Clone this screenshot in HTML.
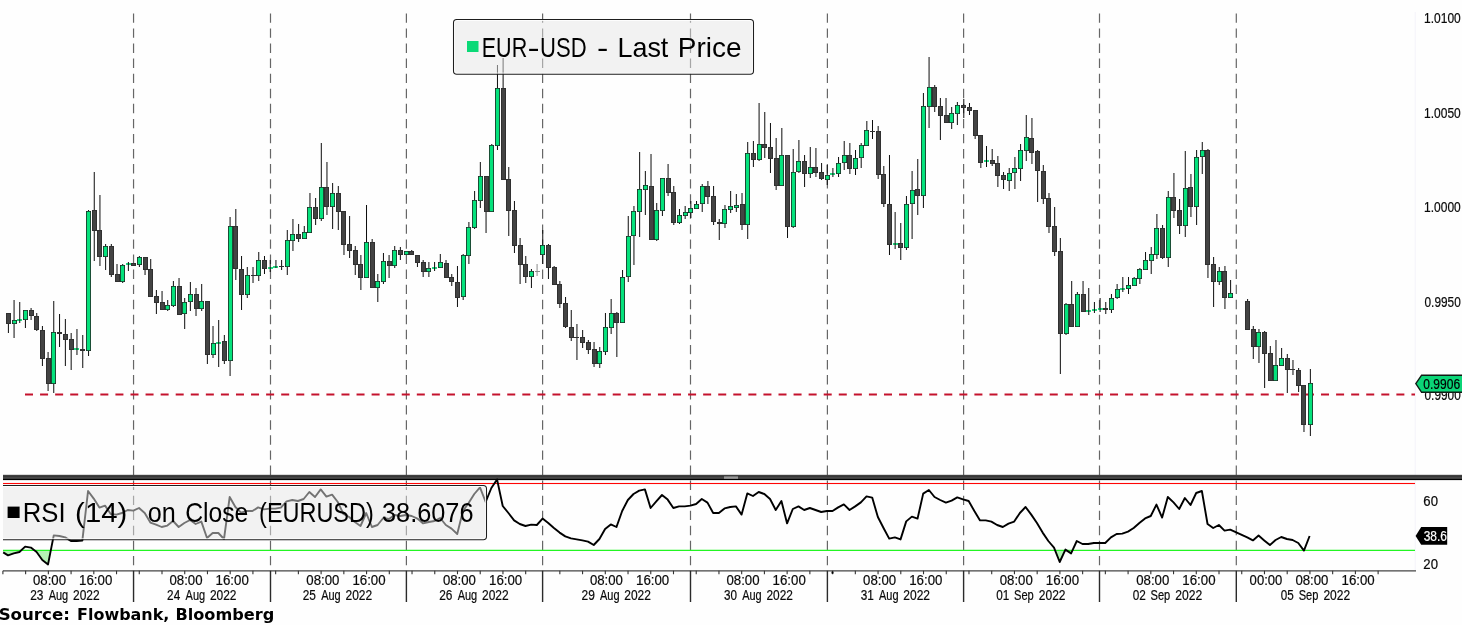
<!DOCTYPE html>
<html lang="en"><head><meta charset="utf-8"><title>EUR-USD - Last Price</title>
<style>
html,body{margin:0;padding:0;background:#fff;}
body{width:1462px;height:625px;overflow:hidden;}
svg{display:block;}
text{font-family:'Liberation Sans', Arial, sans-serif;}
.ax{font-size:14px;fill:#0a0a0a;stroke:#0a0a0a;stroke-width:0.2px;}
.lg{font-size:28.3px;fill:#000;}
.src{font-family:"DejaVu Sans","Liberation Sans",sans-serif;font-weight:bold;font-size:15px;fill:#000;}
</style></head><body>
<svg width="1462" height="625" viewBox="0 0 1462 625" role="img" aria-label="EUR-USD hourly candlestick chart with RSI (14)">
<rect width="1462" height="625" fill="#fefefe"/>
<g stroke="#f6f5fb" stroke-width="1.2" fill="none">
<path d="M1415.3 12V570"/>
</g>
<g stroke="#666" stroke-width="1.2" stroke-dasharray="9.4 5.67" fill="none">
<path d="M133.55 13.4V566"/>
<path d="M270.5 13.4V566"/>
<path d="M406.4 13.4V566"/>
<path d="M542.6 13.4V566"/>
<path d="M690.5 13.4V566"/>
<path d="M827.4 13.4V566"/>
<path d="M963.6 13.4V566"/>
<path d="M1099.5 13.4V566"/>
<path d="M1236.3 13.4V566"/>
</g>
<path d="M25 394.5H1415" stroke="#c4122d" stroke-width="1.8" stroke-dasharray="8 7.07" fill="none"/>
<path d="M17 319h5v2h-5zM74 348h5v2h-5zM126 263h5v2h-5zM216 342h5v2h-5zM268 267h5v2h-5zM273 266h5v2h-5zM432 267h5v2h-5zM830 173h5v2h-5zM893 243h5v2h-5zM984 160h5v2h-5zM1086 310h5v2h-5zM1092 309h5v2h-5zM1098 308h5v2h-5zM1120 288h5v2h-5z" fill="#12d877" fill-opacity="0.92"/>
<path d="M8.4 313V333M14.07 300V338M19.74 302V323M25.41 310V328M31.08 308V320M36.75 313V331M42.42 326V366M48.09 352V391M53.76 301V393M59.56 314V347M65.36 319V366M71.16 333V370M76.96 329V355M82.76 335V368M88.56 210V356M94.25 172V261M99.94 195V266M105.63 244V270M111.32 244V277M117.01 264V282M122.7 264V283M128.39 262V271M133.73 263V266M139.39 256V267M145.05 257V275M150.72 259V297M156.38 290V314M162.05 291V310M167.71 300V311M173.38 281V307M179.04 278V315M184.7 298V329M190.37 282V311M196.03 288V316M201.7 284V311M207.36 301V364M213.03 326V358M218.69 320V367M224.35 335V364M230.09 217V376M235.82 209V280M241.55 256V310M247.29 267V298M253.02 267V283M258.75 252V281M264.49 256V274M270.22 260V272M275.95 260V268M281.62 260V270M287.29 230V275M292.95 219V251M298.62 224V242M304.29 226V239M309.96 193V233M315.63 198V225M321.3 143V221M326.96 162V215M332.63 183V229M338.3 186V230M343.97 211V255M349.61 216V258M355.25 246V275M360.89 255V290M366.53 205V278M372.17 239V288M377.81 274V302M383.45 253V284M389.09 255V278M394.73 246V268M400.37 247V260M406.01 251V255M411.73 250V255M417.44 255V267M423.16 260V277M428.88 262V277M434.6 262V271M440.31 254V268M446.03 260V278M451.75 274V286M457.46 266V307M463.18 254V300M468.9 222V264M474.62 191V229M480.33 162V208M486.05 176V233M491.77 144V212M497.46 65V150M503.12 58V180M508.78 167V236M514.44 201V253M520.1 238V284M525.77 256V283M531.43 269V288M542.75 230V264M548.45 244V279M554.15 266V285M559.85 281V308M565.55 297V328M571.25 310V341M576.95 324V360M582.65 330V348M588.35 340V354M594.05 342V367M599.75 347V368M605.45 313V355M611.15 299V334M616.85 312V357M622.55 270V323M628.25 216V282M633.95 206V265M639.65 152V237M645.35 171V215M651.03 154V240M656.72 203V241M662.41 178V216M668.09 164V196M673.78 186V225M679.47 209V224M685.16 206V219M690.84 201V218M696.53 201V209M702.22 184V212M707.9 181V204M713.59 186V225M719.28 219V240M724.97 205V228M730.65 191V213M736.34 194V212M742.03 193V230M747.71 142V239M753.4 141V167M759.09 103V161M764.78 112V158M770.46 123V173M776.15 138V190M781.84 128V186M787.52 155V238M793.21 149V228M798.9 140V173M804.59 155V187M810.27 147V178M815.93 148V177M821.59 163V180M827.24 165V185M832.9 168V177M838.56 157V177M844.21 141V170M849.87 143V174M855.53 150V175M861.19 143V168M866.84 121V146M872.5 120V139M878.16 126V179M883.81 166V207M889.47 155V255M895.13 212V249M900.78 223V260M906.44 196V250M912.1 171V239M917.76 159V215M923.41 93V208M929.07 57V128M934.73 85V112M940.39 98V140M946.04 98V123M951.7 107V129M957.36 102V125M963.79 99V118M969.47 103V115M975.15 110V139M980.83 135V168M986.51 146V167M992.19 149V166M997.87 156V187M1003.55 172V189M1009.23 168V191M1014.91 157V189M1020.59 144V181M1026.27 115V161M1031.95 118V164M1037.63 150V202M1043.31 165V204M1048.99 193V233M1054.67 207V256M1060.35 238V374M1066.02 303V335M1071.7 281V327M1077.38 292V327M1083.06 281V312M1088.74 288V315M1094.42 302V313M1100.1 298V312M1105.78 302V314M1111.46 294V313M1117.14 284V299M1122.82 277V292M1128.5 277V294M1134.18 277V286M1139.86 268V284M1145.54 252V270M1151.22 247V274M1156.9 214V259M1162.58 225V259M1168.26 191V267M1173.93 173V218M1179.6 199V234M1185.27 151V237M1190.94 174V217M1196.61 150V225M1202.28 142V174M1207.95 149V278M1213.61 257V307M1219.28 267V285M1224.95 266V309M1230.62 280V298M1247.62 299V330M1253.29 326V359M1258.96 329V363M1264.63 331V388M1270.3 346V381M1275.97 340V381M1281.64 348V366M1287.3 354V393M1292.97 360V375M1298.64 368V392M1303.97 385V432M1310.36 369V436" stroke="#0c0c0c" stroke-width="1" fill="none"/>
<path d="M537.09 264V276M535 271.5H540" stroke="#8a8a8a" stroke-width="1" fill="none"/>
<path d="M6 313h5v11h-5zM29 310h5v6h-5zM34 316h5v14h-5zM40 330h5v29h-5zM46 358h5v26h-5zM57 332h5v2h-5zM63 334h5v6h-5zM69 339h5v11h-5zM80 349h5v2h-5zM92 210h5v21h-5zM97 230h5v27h-5zM109 246h5v29h-5zM115 274h5v8h-5zM131 263h5v3h-5zM143 257h5v13h-5zM148 269h5v28h-5zM154 296h5v7h-5zM160 302h5v8h-5zM177 286h5v29h-5zM194 294h5v15h-5zM205 301h5v54h-5zM222 341h5v20h-5zM233 226h5v43h-5zM239 269h5v26h-5zM251 275h5v1h-5zM262 260h5v9h-5zM279 266h5v1h-5zM296 234h5v5h-5zM313 207h5v12h-5zM324 187h5v20h-5zM336 193h5v19h-5zM341 211h5v34h-5zM347 244h5v7h-5zM353 250h5v15h-5zM358 264h5v14h-5zM370 242h5v46h-5zM387 261h5v5h-5zM398 250h5v5h-5zM409 251h5v4h-5zM415 255h5v8h-5zM421 262h5v10h-5zM444 263h5v15h-5zM449 277h5v5h-5zM455 282h5v16h-5zM484 176h5v36h-5zM501 88h5v92h-5zM506 179h5v32h-5zM512 210h5v36h-5zM518 245h5v20h-5zM523 264h5v13h-5zM546 245h5v23h-5zM552 267h5v18h-5zM557 284h5v20h-5zM563 303h5v24h-5zM569 327h5v11h-5zM574 337h5v1h-5zM580 337h5v6h-5zM586 342h5v8h-5zM592 349h5v15h-5zM614 313h5v10h-5zM649 186h5v54h-5zM666 178h5v15h-5zM671 192h5v31h-5zM705 186h5v11h-5zM711 196h5v26h-5zM717 222h5v2h-5zM740 204h5v21h-5zM751 153h5v7h-5zM762 144h5v4h-5zM768 147h5v12h-5zM774 158h5v28h-5zM785 155h5v72h-5zM802 161h5v13h-5zM813 167h5v6h-5zM819 172h5v7h-5zM847 155h5v14h-5zM870 131h5v1h-5zM876 131h5v44h-5zM881 174h5v30h-5zM887 204h5v41h-5zM898 243h5v5h-5zM915 189h5v7h-5zM932 87h5v20h-5zM938 106h5v10h-5zM944 115h5v8h-5zM961 105h5v3h-5zM967 107h5v4h-5zM973 110h5v26h-5zM978 135h5v28h-5zM990 160h5v4h-5zM995 163h5v13h-5zM1001 175h5v5h-5zM1029 138h5v15h-5zM1035 151h5v20h-5zM1041 171h5v28h-5zM1046 198h5v29h-5zM1052 226h5v26h-5zM1058 251h5v83h-5zM1069 304h5v23h-5zM1081 294h5v18h-5zM1103 308h5v2h-5zM1160 228h5v30h-5zM1171 197h5v14h-5zM1177 210h5v16h-5zM1188 187h5v20h-5zM1205 150h5v115h-5zM1211 264h5v18h-5zM1222 271h5v27h-5zM1245 301h5v29h-5zM1251 329h5v18h-5zM1262 332h5v22h-5zM1268 353h5v28h-5zM1285 358h5v12h-5zM1290 369h5v1h-5zM1296 370h5v16h-5zM1301 385h5v40h-5z" fill="#303030"/>
<path d="M7 314h3v9h-3zM30 311h3v4h-3zM35 317h3v12h-3zM41 331h3v27h-3zM47 359h3v24h-3zM64 335h3v4h-3zM70 340h3v9h-3zM93 211h3v19h-3zM98 231h3v25h-3zM110 247h3v27h-3zM116 275h3v6h-3zM132 264h3v1h-3zM144 258h3v11h-3zM149 270h3v26h-3zM155 297h3v5h-3zM161 303h3v6h-3zM178 287h3v27h-3zM195 295h3v13h-3zM206 302h3v52h-3zM223 342h3v18h-3zM234 227h3v41h-3zM240 270h3v24h-3zM263 261h3v7h-3zM297 235h3v3h-3zM314 208h3v10h-3zM325 188h3v18h-3zM337 194h3v17h-3zM342 212h3v32h-3zM348 245h3v5h-3zM354 251h3v13h-3zM359 265h3v12h-3zM371 243h3v44h-3zM388 262h3v3h-3zM399 251h3v3h-3zM410 252h3v2h-3zM416 256h3v6h-3zM422 263h3v8h-3zM445 264h3v13h-3zM450 278h3v3h-3zM456 283h3v14h-3zM485 177h3v34h-3zM502 89h3v90h-3zM507 180h3v30h-3zM513 211h3v34h-3zM519 246h3v18h-3zM524 265h3v11h-3zM547 246h3v21h-3zM553 268h3v16h-3zM558 285h3v18h-3zM564 304h3v22h-3zM570 328h3v9h-3zM581 338h3v4h-3zM587 343h3v6h-3zM593 350h3v13h-3zM615 314h3v8h-3zM650 187h3v52h-3zM667 179h3v13h-3zM672 193h3v29h-3zM706 187h3v9h-3zM712 197h3v24h-3zM741 205h3v19h-3zM752 154h3v5h-3zM763 145h3v2h-3zM769 148h3v10h-3zM775 159h3v26h-3zM786 156h3v70h-3zM803 162h3v11h-3zM814 168h3v4h-3zM820 173h3v5h-3zM848 156h3v12h-3zM877 132h3v42h-3zM882 175h3v28h-3zM888 205h3v39h-3zM899 244h3v3h-3zM916 190h3v5h-3zM933 88h3v18h-3zM939 107h3v8h-3zM945 116h3v6h-3zM962 106h3v1h-3zM968 108h3v2h-3zM974 111h3v24h-3zM979 136h3v26h-3zM991 161h3v2h-3zM996 164h3v11h-3zM1002 176h3v3h-3zM1030 139h3v13h-3zM1036 152h3v18h-3zM1042 172h3v26h-3zM1047 199h3v27h-3zM1053 227h3v24h-3zM1059 252h3v81h-3zM1070 305h3v21h-3zM1082 295h3v16h-3zM1161 229h3v28h-3zM1172 198h3v12h-3zM1178 211h3v14h-3zM1189 188h3v18h-3zM1206 151h3v113h-3zM1212 265h3v16h-3zM1223 272h3v25h-3zM1246 302h3v27h-3zM1252 330h3v16h-3zM1263 333h3v20h-3zM1269 354h3v26h-3zM1286 359h3v10h-3zM1297 371h3v14h-3zM1302 386h3v38h-3z" fill="#434343"/>
<path d="M12 320h5v4h-5zM23 310h5v10h-5zM51 332h5v52h-5zM86 211h5v140h-5zM103 246h5v11h-5zM120 265h5v17h-5zM137 257h5v8h-5zM165 305h5v5h-5zM171 286h5v20h-5zM182 302h5v12h-5zM188 294h5v8h-5zM199 301h5v8h-5zM211 343h5v12h-5zM228 226h5v135h-5zM245 275h5v20h-5zM256 260h5v16h-5zM285 240h5v27h-5zM290 234h5v7h-5zM302 232h5v7h-5zM307 207h5v26h-5zM319 187h5v32h-5zM330 193h5v14h-5zM364 242h5v36h-5zM375 281h5v7h-5zM381 261h5v21h-5zM392 250h5v16h-5zM404 251h5v4h-5zM426 268h5v4h-5zM438 262h5v6h-5zM461 255h5v42h-5zM466 227h5v29h-5zM472 200h5v28h-5zM478 176h5v25h-5zM489 145h5v67h-5zM495 88h5v58h-5zM529 271h5v6h-5zM540 245h5v10h-5zM597 351h5v13h-5zM603 327h5v25h-5zM609 313h5v15h-5zM620 277h5v46h-5zM626 236h5v41h-5zM631 211h5v25h-5zM637 189h5v23h-5zM643 185h5v5h-5zM654 210h5v30h-5zM660 178h5v33h-5zM677 215h5v8h-5zM683 212h5v4h-5zM688 208h5v5h-5zM694 204h5v5h-5zM700 186h5v18h-5zM722 209h5v15h-5zM728 206h5v4h-5zM734 205h5v3h-5zM745 153h5v72h-5zM757 144h5v16h-5zM779 155h5v31h-5zM791 172h5v55h-5zM796 161h5v11h-5zM808 167h5v7h-5zM825 175h5v5h-5zM836 163h5v11h-5zM842 155h5v8h-5zM853 158h5v11h-5zM859 145h5v13h-5zM864 130h5v16h-5zM904 204h5v44h-5zM910 190h5v14h-5zM921 106h5v90h-5zM927 87h5v20h-5zM949 113h5v10h-5zM955 105h5v9h-5zM1007 173h5v8h-5zM1012 168h5v5h-5zM1018 150h5v19h-5zM1024 137h5v14h-5zM1064 304h5v30h-5zM1075 294h5v33h-5zM1109 298h5v12h-5zM1115 289h5v9h-5zM1126 285h5v4h-5zM1132 278h5v8h-5zM1137 269h5v10h-5zM1143 260h5v10h-5zM1149 254h5v7h-5zM1154 228h5v27h-5zM1166 197h5v61h-5zM1183 188h5v38h-5zM1194 157h5v50h-5zM1200 150h5v7h-5zM1217 271h5v11h-5zM1228 293h5v5h-5zM1256 332h5v15h-5zM1273 365h5v16h-5zM1279 358h5v8h-5zM1308 383h5v42h-5z" fill="#1f2a24"/>
<path d="M12.8 320.8h3.4v2.4h-3.4zM23.8 310.8h3.4v8.4h-3.4zM51.8 332.8h3.4v50.4h-3.4zM86.8 211.8h3.4v138.4h-3.4zM103.8 246.8h3.4v9.4h-3.4zM120.8 265.8h3.4v15.4h-3.4zM137.8 257.8h3.4v6.4h-3.4zM165.8 305.8h3.4v3.4h-3.4zM171.8 286.8h3.4v18.4h-3.4zM182.8 302.8h3.4v10.4h-3.4zM188.8 294.8h3.4v6.4h-3.4zM199.8 301.8h3.4v6.4h-3.4zM211.8 343.8h3.4v10.4h-3.4zM228.8 226.8h3.4v133.4h-3.4zM245.8 275.8h3.4v18.4h-3.4zM256.8 260.8h3.4v14.4h-3.4zM285.8 240.8h3.4v25.4h-3.4zM290.8 234.8h3.4v5.4h-3.4zM302.8 232.8h3.4v5.4h-3.4zM307.8 207.8h3.4v24.4h-3.4zM319.8 187.8h3.4v30.4h-3.4zM330.8 193.8h3.4v12.4h-3.4zM364.8 242.8h3.4v34.4h-3.4zM375.8 281.8h3.4v5.4h-3.4zM381.8 261.8h3.4v19.4h-3.4zM392.8 250.8h3.4v14.4h-3.4zM404.8 251.8h3.4v2.4h-3.4zM426.8 268.8h3.4v2.4h-3.4zM438.8 262.8h3.4v4.4h-3.4zM461.8 255.8h3.4v40.4h-3.4zM466.8 227.8h3.4v27.4h-3.4zM472.8 200.8h3.4v26.4h-3.4zM478.8 176.8h3.4v23.4h-3.4zM489.8 145.8h3.4v65.4h-3.4zM495.8 88.8h3.4v56.4h-3.4zM529.8 271.8h3.4v4.4h-3.4zM540.8 245.8h3.4v8.4h-3.4zM597.8 351.8h3.4v11.4h-3.4zM603.8 327.8h3.4v23.4h-3.4zM609.8 313.8h3.4v13.4h-3.4zM620.8 277.8h3.4v44.4h-3.4zM626.8 236.8h3.4v39.4h-3.4zM631.8 211.8h3.4v23.4h-3.4zM637.8 189.8h3.4v21.4h-3.4zM643.8 185.8h3.4v3.4h-3.4zM654.8 210.8h3.4v28.4h-3.4zM660.8 178.8h3.4v31.4h-3.4zM677.8 215.8h3.4v6.4h-3.4zM683.8 212.8h3.4v2.4h-3.4zM688.8 208.8h3.4v3.4h-3.4zM694.8 204.8h3.4v3.4h-3.4zM700.8 186.8h3.4v16.4h-3.4zM722.8 209.8h3.4v13.4h-3.4zM728.8 206.8h3.4v2.4h-3.4zM734.8 205.8h3.4v1.4h-3.4zM745.8 153.8h3.4v70.4h-3.4zM757.8 144.8h3.4v14.4h-3.4zM779.8 155.8h3.4v29.4h-3.4zM791.8 172.8h3.4v53.4h-3.4zM796.8 161.8h3.4v9.4h-3.4zM808.8 167.8h3.4v5.4h-3.4zM825.8 175.8h3.4v3.4h-3.4zM836.8 163.8h3.4v9.4h-3.4zM842.8 155.8h3.4v6.4h-3.4zM853.8 158.8h3.4v9.4h-3.4zM859.8 145.8h3.4v11.4h-3.4zM864.8 130.8h3.4v14.4h-3.4zM904.8 204.8h3.4v42.4h-3.4zM910.8 190.8h3.4v12.4h-3.4zM921.8 106.8h3.4v88.4h-3.4zM927.8 87.8h3.4v18.4h-3.4zM949.8 113.8h3.4v8.4h-3.4zM955.8 105.8h3.4v7.4h-3.4zM1007.8 173.8h3.4v6.4h-3.4zM1012.8 168.8h3.4v3.4h-3.4zM1018.8 150.8h3.4v17.4h-3.4zM1024.8 137.8h3.4v12.4h-3.4zM1064.8 304.8h3.4v28.4h-3.4zM1075.8 294.8h3.4v31.4h-3.4zM1109.8 298.8h3.4v10.4h-3.4zM1115.8 289.8h3.4v7.4h-3.4zM1126.8 285.8h3.4v2.4h-3.4zM1132.8 278.8h3.4v6.4h-3.4zM1137.8 269.8h3.4v8.4h-3.4zM1143.8 260.8h3.4v8.4h-3.4zM1149.8 254.8h3.4v5.4h-3.4zM1154.8 228.8h3.4v25.4h-3.4zM1166.8 197.8h3.4v59.4h-3.4zM1183.8 188.8h3.4v36.4h-3.4zM1194.8 157.8h3.4v48.4h-3.4zM1200.8 150.8h3.4v5.4h-3.4zM1217.8 271.8h3.4v9.4h-3.4zM1228.8 293.8h3.4v3.4h-3.4zM1256.8 332.8h3.4v13.4h-3.4zM1273.8 365.8h3.4v14.4h-3.4zM1279.8 358.8h3.4v6.4h-3.4zM1308.8 383.8h3.4v40.4h-3.4z" fill="#05e27c"/>
<rect x="454" y="20" width="299" height="53.7" rx="3" fill="#e6e6e6" fill-opacity="0.5"/>
<rect x="454.5" y="20.5" width="298" height="52.7" rx="2.5" fill="none" stroke="#fff" stroke-opacity="0.85" stroke-width="1"/>
<rect x="453.5" y="19.5" width="300" height="54.7" rx="3.2" fill="none" stroke="#1e1e1e" stroke-width="1.05"/>
<rect x="467" y="41" width="11.5" height="11" fill="#0bd977"/>
<text class="lg" y="56.8"><tspan x="481.78" textLength="45.43" lengthAdjust="spacingAndGlyphs">EUR</tspan><tspan x="527.44" textLength="12.12" lengthAdjust="spacingAndGlyphs">-</tspan><tspan x="540.06" textLength="46.57" lengthAdjust="spacingAndGlyphs">USD</tspan> <tspan x="597.04" textLength="11.32" lengthAdjust="spacingAndGlyphs">-</tspan> <tspan x="617.45" textLength="50.9" lengthAdjust="spacingAndGlyphs">Last</tspan> <tspan x="677.76" textLength="63.75" lengthAdjust="spacingAndGlyphs">Price</tspan></text>
<rect x="3" y="474.8" width="1459" height="4.3" fill="#464646"/>
<rect x="3" y="475.6" width="1459" height="1.2" fill="#363636"/>
<rect x="3" y="478.9" width="1459" height="1.2" fill="#000"/>
<rect x="724" y="476.4" width="14" height="2.4" fill="#9a9a9a"/>
<rect x="3" y="482.95" width="1412" height="1.1" fill="#ff0505"/>
<path d="M3.2 550.45L3.2 552.4L8 555.4L13.72 553.4L19.44 552L21.08 550.45Z" fill="#b4f3b4"/>
<path d="M34.58 550.45L36.59 552L42.31 560L48.03 564.4L50.78 550.45Z" fill="#b4f3b4"/>
<path d="M1055.14 550.45L1059.71 562L1065.01 550.45Z" fill="#b4f3b4"/>
<path d="M1066.67 550.45L1071.09 553.4L1072.44 550.45Z" fill="#b4f3b4"/>
<path d="M1303.82 550.45L1303.94 550.6L1303.99 550.45Z" fill="#b4f3b4"/>
<path d="M3 550.45H1415" stroke="#22f522" stroke-width="1.25" fill="none"/>
<path d="M3.2 552.4L8 555.4L13.72 553.4L19.44 552L25.16 546.6L30.87 547.6L36.59 552L42.31 560L48.03 564.4L53.75 535.4L59.47 536L65.19 537.4L70.91 541L76.62 541L82.34 540.6L88.06 491L93.73 498.6L99.39 507.6L105.05 505.6L110.72 514L116.38 514.6L122.05 513L127.71 510L133.38 510.6L139.04 508L144.7 513L150.37 522.6L156.03 524.6L161.7 527L167.36 525.6L173.03 521L178.69 527L184.35 523L190.02 520L195.68 524L201.35 521.6L207.01 538L212.68 533L218.34 533L224 539L229.69 497L235.38 507L241.07 512.6L246.76 511L252.45 511L258.13 507.4L263.82 509.4L269.51 508.6L275.2 508.6L280.89 507.6L286.58 501.4L292.26 500L297.95 501L303.64 499L309.33 492L315.02 497L320.71 489.4L326.39 496.6L332.08 494.6L337.77 502L343.46 514L349.15 517L354.84 522L360.52 526L366.21 513L371.9 527L377.59 525L383.28 518L388.97 519L394.65 515L400.34 516L406.03 515L411.72 516L417.41 518.6L423.1 523.4L428.78 522L434.47 521L440.16 518L445.85 525L451.54 528.6L457.23 534L462.91 511L468.6 503L474.29 494L479.98 487.4L485.67 502L491.36 488L497.04 479.4L502.73 506L508.42 513L514.1 520.4L519.79 524L525.48 526L531.17 524.6L536.85 525L542.54 518.6L548.23 523L553.92 528L559.6 532.6L565.29 536.4L570.98 538.4L576.67 539.4L582.35 540.4L588.04 541.6L593.73 545L599.42 539L605.1 529L610.79 524.4L616.48 527L622.17 511L627.85 500L633.54 494L639.23 490.6L644.92 489.4L650.6 508L656.29 501.4L661.98 495L667.67 499.6L673.35 508L679.04 506.4L684.73 506.4L690.42 505.6L696.1 504L701.79 499L707.48 502.6L713.17 513L718.85 513L724.54 508.4L730.23 507L735.92 506.4L741.6 514.6L747.29 493.4L752.98 496L758.67 492L764.35 494L770.04 499L775.73 510L781.42 501L787.1 523.4L792.79 509L798.48 506.4L804.17 510L809.85 508L815.52 510L821.19 512L826.86 511L832.52 511L838.19 507.4L843.86 504.4L849.53 510L855.2 506.4L860.86 502.4L866.53 496.4L872.2 497.6L877.87 517L883.53 528L889.2 538.6L894.87 537.4L900.54 539.4L906.21 521.4L911.87 516.6L917.54 518.6L923.21 493.6L928.88 490L934.54 497L940.21 500L945.9 502.6L951.59 500.6L957.28 497.4L962.97 499.4L968.66 501L974.35 511L980.04 520.4L985.73 520.4L991.42 521.6L997.12 525L1002.81 527L1008.5 523.6L1014.19 521.6L1019.88 513L1025.57 507L1031.26 514.6L1036.95 523L1042.64 532.6L1048.33 541L1054.02 547.6L1059.71 562L1065.4 549.6L1071.09 553.4L1076.78 541L1082.47 544L1088.16 544L1093.85 543L1099.54 543L1105.23 543L1110.92 537.4L1116.61 534L1122.3 533.6L1127.99 531.6L1133.68 528L1139.37 523L1145.06 518.4L1150.75 516L1156.44 504.6L1162.13 517.6L1167.82 497L1173.51 502.4L1179.19 509L1184.86 498L1190.53 505L1196.2 493L1201.87 491L1207.54 524L1213.21 528L1218.88 525L1224.55 530.6L1230.22 529.6L1247.23 537.4L1252.9 540.4L1258.57 535.6L1264.24 540.4L1269.91 545L1275.58 540L1281.25 537L1286.92 539L1292.6 540L1298.27 543L1303.94 550.6L1309.61 536" stroke="#000" stroke-width="1.9" stroke-linejoin="round" stroke-linecap="butt" fill="none"/>
<clipPath id="cl"><rect x="3" y="480" width="1460" height="70"/></clipPath>
<g clip-path="url(#cl)"><rect x="-4" y="486" width="490.5" height="53.3" rx="3" fill="#e6e6e6" fill-opacity="0.5"/>
<rect x="-4" y="486.5" width="489.5" height="52.3" rx="2.5" fill="none" stroke="#fff" stroke-opacity="0.85" stroke-width="1"/>
<rect x="-4" y="485.5" width="490.5" height="54.2" rx="3.2" fill="none" stroke="#1e1e1e" stroke-width="1.05"/></g>
<rect x="7.6" y="506.6" width="12" height="11.4" fill="#000"/>
<text class="lg" y="522"><tspan x="22.75" textLength="42.81" lengthAdjust="spacingAndGlyphs">RSI</tspan> <tspan x="75.14" textLength="52.11" lengthAdjust="spacingAndGlyphs">(14)</tspan> <tspan x="147.79" textLength="28.02" lengthAdjust="spacingAndGlyphs">on</tspan> <tspan x="185.16" textLength="63.23" lengthAdjust="spacingAndGlyphs">Close</tspan> <tspan x="259.09" textLength="114.65" lengthAdjust="spacingAndGlyphs">(EURUSD)</tspan> <tspan x="382.04" textLength="91.47" lengthAdjust="spacingAndGlyphs">38.6076</tspan></text>
<path d="M3 570.8H1416" stroke="#444" stroke-width="1.3" fill="none"/>
<path d="M2.89 570.8V574.2M25.62 570.8V574.2M48.35 570.8V574.2M71.08 570.8V574.2M93.81 570.8V574.2M116.54 570.8V574.2M139.27 570.8V574.2M162 570.8V574.2M184.73 570.8V574.2M207.46 570.8V574.2M230.19 570.8V574.2M252.92 570.8V574.2M275.65 570.8V574.2M298.38 570.8V574.2M321.11 570.8V574.2M343.84 570.8V574.2M366.57 570.8V574.2M389.3 570.8V574.2M412.03 570.8V574.2M434.76 570.8V574.2M457.49 570.8V574.2M480.22 570.8V574.2M502.95 570.8V574.2M525.68 570.8V574.2M559.84 570.8V574.2M582.57 570.8V574.2M605.3 570.8V574.2M628.03 570.8V574.2M650.76 570.8V574.2M673.49 570.8V574.2M696.22 570.8V574.2M718.95 570.8V574.2M741.68 570.8V574.2M764.41 570.8V574.2M787.14 570.8V574.2M809.87 570.8V574.2M832.6 570.8V574.2M855.33 570.8V574.2M878.06 570.8V574.2M900.79 570.8V574.2M923.52 570.8V574.2M946.25 570.8V574.2M968.98 570.8V574.2M991.71 570.8V574.2M1014.44 570.8V574.2M1037.17 570.8V574.2M1059.9 570.8V574.2M1082.63 570.8V574.2M1105.36 570.8V574.2M1128.09 570.8V574.2M1150.82 570.8V574.2M1173.55 570.8V574.2M1196.28 570.8V574.2M1219.01 570.8V574.2M1241.74 570.8V574.2M1264.47 570.8V574.2M1287.2 570.8V574.2M1309.93 570.8V574.2M1332.66 570.8V574.2M1355.39 570.8V574.2M1378.12 570.8V574.2" stroke="#333" stroke-width="1.1" fill="none"/>
<path d="M133.55 570.8V602M270.5 570.8V602M406.4 570.8V602M542.6 570.8V602M690.5 570.8V602M827.4 570.8V602M963.6 570.8V602M1099.5 570.8V602M1236.3 570.8V602" stroke="#2a2a2a" stroke-width="1.4" fill="none"/>
<rect x="831.5" y="571.6" width="2" height="2" fill="#000"/>
<text class="ax" y="584.6"><tspan x="32.95" textLength="33.07" lengthAdjust="spacingAndGlyphs">08:00</tspan> <tspan x="79.07" textLength="33.21" lengthAdjust="spacingAndGlyphs">16:00</tspan></text>
<text class="ax" y="584.6"><tspan x="169.5" textLength="33.07" lengthAdjust="spacingAndGlyphs">08:00</tspan> <tspan x="215.62" textLength="33.21" lengthAdjust="spacingAndGlyphs">16:00</tspan></text>
<text class="ax" y="584.6"><tspan x="306.3" textLength="33.07" lengthAdjust="spacingAndGlyphs">08:00</tspan> <tspan x="352.42" textLength="33.21" lengthAdjust="spacingAndGlyphs">16:00</tspan></text>
<text class="ax" y="584.6"><tspan x="442.9" textLength="33.07" lengthAdjust="spacingAndGlyphs">08:00</tspan> <tspan x="489.02" textLength="33.21" lengthAdjust="spacingAndGlyphs">16:00</tspan></text>
<text class="ax" y="584.6"><tspan x="589.9" textLength="33.07" lengthAdjust="spacingAndGlyphs">08:00</tspan> <tspan x="636.02" textLength="33.21" lengthAdjust="spacingAndGlyphs">16:00</tspan></text>
<text class="ax" y="584.6"><tspan x="726.5" textLength="33.07" lengthAdjust="spacingAndGlyphs">08:00</tspan> <tspan x="772.62" textLength="33.21" lengthAdjust="spacingAndGlyphs">16:00</tspan></text>
<text class="ax" y="584.6"><tspan x="863.1" textLength="33.07" lengthAdjust="spacingAndGlyphs">08:00</tspan> <tspan x="909.22" textLength="33.21" lengthAdjust="spacingAndGlyphs">16:00</tspan></text>
<text class="ax" y="584.6"><tspan x="999.7" textLength="33.07" lengthAdjust="spacingAndGlyphs">08:00</tspan> <tspan x="1045.82" textLength="33.21" lengthAdjust="spacingAndGlyphs">16:00</tspan></text>
<text class="ax" y="584.6"><tspan x="1136.2" textLength="33.07" lengthAdjust="spacingAndGlyphs">08:00</tspan> <tspan x="1182.32" textLength="33.21" lengthAdjust="spacingAndGlyphs">16:00</tspan></text>
<text class="ax" y="584.6"><tspan x="1295.4" textLength="33.07" lengthAdjust="spacingAndGlyphs">08:00</tspan> <tspan x="1341.52" textLength="33.21" lengthAdjust="spacingAndGlyphs">16:00</tspan></text>
<text class="ax" y="584.6"><tspan x="1249.61" textLength="32.77" lengthAdjust="spacingAndGlyphs">00:00</tspan></text>
<text class="ax" y="599.7"><tspan x="30.21" textLength="13.22" lengthAdjust="spacingAndGlyphs">23</tspan> <tspan x="48.7" textLength="19.52" lengthAdjust="spacingAndGlyphs">Aug</tspan> <tspan x="73" textLength="26.65" lengthAdjust="spacingAndGlyphs">2022</tspan></text>
<text class="ax" y="599.7"><tspan x="167.11" textLength="13.1" lengthAdjust="spacingAndGlyphs">24</tspan> <tspan x="185.6" textLength="19.52" lengthAdjust="spacingAndGlyphs">Aug</tspan> <tspan x="209.9" textLength="26.65" lengthAdjust="spacingAndGlyphs">2022</tspan></text>
<text class="ax" y="599.7"><tspan x="302.71" textLength="13.22" lengthAdjust="spacingAndGlyphs">25</tspan> <tspan x="321.2" textLength="19.52" lengthAdjust="spacingAndGlyphs">Aug</tspan> <tspan x="345.5" textLength="26.76" lengthAdjust="spacingAndGlyphs">2022</tspan></text>
<text class="ax" y="599.7"><tspan x="439.21" textLength="13.22" lengthAdjust="spacingAndGlyphs">26</tspan> <tspan x="457.7" textLength="19.52" lengthAdjust="spacingAndGlyphs">Aug</tspan> <tspan x="482" textLength="26.65" lengthAdjust="spacingAndGlyphs">2022</tspan></text>
<text class="ax" y="599.7"><tspan x="581.5" textLength="13.35" lengthAdjust="spacingAndGlyphs">29</tspan> <tspan x="600" textLength="19.52" lengthAdjust="spacingAndGlyphs">Aug</tspan> <tspan x="624.3" textLength="26.65" lengthAdjust="spacingAndGlyphs">2022</tspan></text>
<text class="ax" y="599.7"><tspan x="723.95" textLength="12.97" lengthAdjust="spacingAndGlyphs">30</tspan> <tspan x="742.2" textLength="19.52" lengthAdjust="spacingAndGlyphs">Aug</tspan> <tspan x="766.51" textLength="26.44" lengthAdjust="spacingAndGlyphs">2022</tspan></text>
<text class="ax" y="599.7"><tspan x="860.75" textLength="13.1" lengthAdjust="spacingAndGlyphs">31</tspan> <tspan x="879" textLength="19.52" lengthAdjust="spacingAndGlyphs">Aug</tspan> <tspan x="903.3" textLength="26.76" lengthAdjust="spacingAndGlyphs">2022</tspan></text>
<text class="ax" y="599.7"><tspan x="996.25" textLength="13.1" lengthAdjust="spacingAndGlyphs">01</tspan> <tspan x="1014.06" textLength="19.75" lengthAdjust="spacingAndGlyphs">Sep</tspan> <tspan x="1038.8" textLength="26.76" lengthAdjust="spacingAndGlyphs">2022</tspan></text>
<text class="ax" y="599.7"><tspan x="1132.75" textLength="13.1" lengthAdjust="spacingAndGlyphs">02</tspan> <tspan x="1150.56" textLength="19.75" lengthAdjust="spacingAndGlyphs">Sep</tspan> <tspan x="1175.29" textLength="27.07" lengthAdjust="spacingAndGlyphs">2022</tspan></text>
<text class="ax" y="599.7"><tspan x="1280.85" textLength="12.97" lengthAdjust="spacingAndGlyphs">05</tspan> <tspan x="1298.66" textLength="19.75" lengthAdjust="spacingAndGlyphs">Sep</tspan> <tspan x="1323.4" textLength="26.76" lengthAdjust="spacingAndGlyphs">2022</tspan></text>
<text class="ax" y="23"><tspan x="1424.06" textLength="36.67" lengthAdjust="spacingAndGlyphs">1.0100</tspan></text>
<text class="ax" y="117.9"><tspan x="1424.06" textLength="36.67" lengthAdjust="spacingAndGlyphs">1.0050</tspan></text>
<text class="ax" y="212.2"><tspan x="1424.06" textLength="36.67" lengthAdjust="spacingAndGlyphs">1.0000</tspan></text>
<text class="ax" y="306.5"><tspan x="1424.55" textLength="36.18" lengthAdjust="spacingAndGlyphs">0.9950</tspan></text>
<text class="ax" y="400.3"><tspan x="1424.55" textLength="36.18" lengthAdjust="spacingAndGlyphs">0.9900</tspan></text>
<text class="ax" y="505.6"><tspan x="1423.34" textLength="14.63" lengthAdjust="spacingAndGlyphs">60</tspan></text>
<text class="ax" y="569"><tspan x="1423.34" textLength="14.63" lengthAdjust="spacingAndGlyphs">20</tspan></text>
<path d="M1415.8 383.6L1421.6 375.2H1463V392.3H1421.6Z" fill="#0bd577" stroke="#101a14" stroke-width="1.4" stroke-linejoin="miter"/>
<text class="ax" y="388.8" style="fill:#000;stroke:#000"><tspan x="1423.34" textLength="36.8" lengthAdjust="spacingAndGlyphs">0.9906</tspan></text>
<path d="M1415.6 536L1421.2 527.1H1447.2V544.8H1421.2Z" fill="#000"/>
<text class="ax" y="541" style="fill:#fff;stroke:#fff"><tspan x="1423.64" textLength="23.19" lengthAdjust="spacingAndGlyphs">38.6</tspan></text>
<text class="src" y="620"><tspan x="-1.36" textLength="71.19" lengthAdjust="spacingAndGlyphs">Source:</tspan> <tspan x="77.06" textLength="92.33" lengthAdjust="spacingAndGlyphs">Flowbank,</tspan> <tspan x="175.45" textLength="98.88" lengthAdjust="spacingAndGlyphs">Bloomberg</tspan></text>
</svg>
</body></html>
